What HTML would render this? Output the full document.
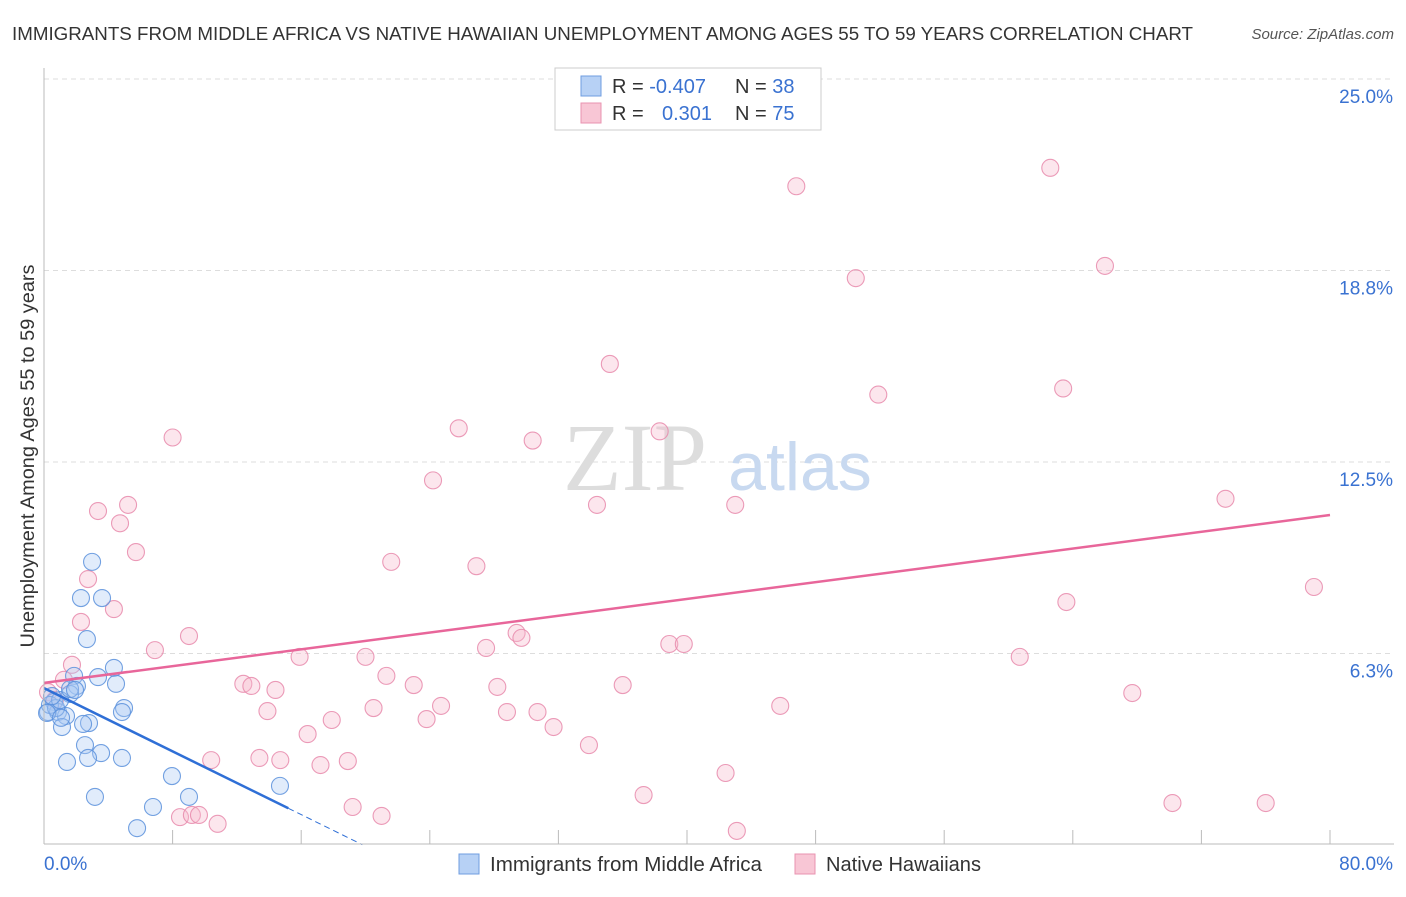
<!DOCTYPE html>
<html><head><meta charset="utf-8"><style>
body{margin:0;background:#fff;font-family:"Liberation Sans",sans-serif}
svg text{font-family:"Liberation Sans",sans-serif}
</style></head><body>
<svg width="1406" height="892" xmlns="http://www.w3.org/2000/svg">
<text x="12" y="40" font-size="18" fill="#333" textLength="1181" lengthAdjust="spacingAndGlyphs">IMMIGRANTS FROM MIDDLE AFRICA VS NATIVE HAWAIIAN UNEMPLOYMENT AMONG AGES 55 TO 59 YEARS CORRELATION CHART</text>
<text x="1394" y="39" font-size="15" fill="#555" font-style="italic" text-anchor="end">Source: ZipAtlas.com</text>
<g id="grid"></g>
<text x="635" y="490" font-size="96" fill="#ddd" text-anchor="middle" style="font-family:'Liberation Serif',serif">ZIP</text>
<text x="800" y="490" font-size="68" fill="#c8d9f0" text-anchor="middle">atlas</text>
<g id="pts"></g>
<g id="axes"></g>
<text transform="translate(34,456) rotate(-90)" font-size="19" fill="#333" text-anchor="middle" textLength="383" lengthAdjust="spacingAndGlyphs">Unemployment Among Ages 55 to 59 years</text>
<g>
<rect x="555" y="68" width="266" height="62" fill="#fff" stroke="#ccc"/>
<rect x="581" y="76" width="20" height="20" fill="#b7d1f5" stroke="#6f9de0"/>
<rect x="581" y="103" width="20" height="20" fill="#f8c6d5" stroke="#e993b0"/>
<text x="612" y="93" font-size="20" fill="#333">R = <tspan fill="#3a72d1">-0.407</tspan></text>
<text x="735" y="93" font-size="20" fill="#333">N = <tspan fill="#3a72d1">38</tspan></text>
<text x="612" y="120" font-size="20" fill="#333">R = </text>
<text x="662" y="120" font-size="20" fill="#3a72d1">0.301</text>
<text x="735" y="120" font-size="20" fill="#333">N = <tspan fill="#3a72d1">75</tspan></text>
</g>
<g>
<rect x="459" y="854" width="20" height="20" fill="#b7d1f5" stroke="#6f9de0"/>
<text x="490" y="871" font-size="20" fill="#333" textLength="272" lengthAdjust="spacingAndGlyphs">Immigrants from Middle Africa</text>
<rect x="795" y="854" width="20" height="20" fill="#f8c6d5" stroke="#e993b0"/>
<text x="826" y="871" font-size="20" fill="#333" textLength="155" lengthAdjust="spacingAndGlyphs">Native Hawaiians</text>
</g>
</svg>
<script>
const yTicks=[6.25,12.5,18.75,25];
const yTickLabels=["6.3%","12.5%","18.8%","25.0%"];
const xTickCount=10;
const blueX=[2.99,2.30,3.61,2.67,4.35,3.36,4.48,1.87,2.05,1.62,0.62,0.25,0.87,1.37,4.98,4.85,2.80,1.12,2.43,2.55,3.55,2.74,1.43,4.85,7.96,3.17,6.78,9.02,14.68,5.79,0.37,0.75,1.0,0.19,0.5,1.06,1.62,1.93];
const blueY=[9.24,8.06,8.06,6.72,5.78,5.48,5.26,5.52,5.19,4.93,4.67,4.34,4.34,4.21,4.47,4.34,3.98,3.85,3.95,3.26,3.0,2.84,2.71,2.84,2.25,1.57,1.24,1.57,1.93,0.55,4.57,4.47,4.73,4.31,4.86,4.15,5.09,5.06];
const pinkX=[46.8,62.6,50.5,66.0,35.2,51.9,63.4,8.0,25.8,30.4,38.3,24.2,34.4,43.0,73.5,3.36,5.23,4.73,5.72,21.6,26.9,79.0,2.74,4.35,2.30,63.6,9.02,6.9,27.5,29.4,29.7,38.9,39.8,15.9,20.0,60.7,1.74,1.24,21.3,12.4,12.9,14.4,23.0,28.2,36.0,67.7,13.9,20.5,24.7,28.8,30.7,45.8,17.9,23.8,31.7,16.4,33.9,10.4,13.4,14.7,17.2,18.9,42.4,37.3,19.2,8.46,9.2,9.64,10.8,21.0,43.1,70.2,76.0,0.25,0.68];
const pinkY=[21.5,22.1,18.5,18.9,15.7,14.7,14.9,13.3,13.6,13.2,13.5,11.9,11.1,11.1,11.3,10.9,11.1,10.5,9.56,9.24,9.1,8.42,8.68,7.7,7.28,7.93,6.82,6.36,6.43,6.92,6.76,6.56,6.56,6.14,6.14,6.14,5.88,5.39,5.52,5.26,5.19,5.06,5.22,5.16,5.22,4.96,4.37,4.47,4.54,4.34,4.34,4.54,4.08,4.11,3.85,3.62,3.26,2.77,2.84,2.77,2.61,2.74,2.35,1.63,1.24,0.91,0.98,0.98,0.69,0.95,0.46,1.37,1.37,4.99,4.73];
const blueTrend=[5.12,-0.258]; const blueSolidEnd=15.2, blueDashEnd=19.8;
const pinkTrend=[5.29,0.0685]; const pinkEnd=80;
const NS="http://www.w3.org/2000/svg";
const X=v=>44+v/80*1286, Y=v=>845-v/25*766;
function mk(t,a,p){const e=document.createElementNS(NS,t);for(const k in a)e.setAttribute(k,a[k]);p.appendChild(e);return e;}
const grid=document.getElementById('grid'),axes=document.getElementById('axes'),pts=document.getElementById('pts');
yTicks.forEach((t,i)=>{const l=mk('line',{x1:44,x2:1394,y1:Y(t),y2:Y(t),stroke:'#ddd','stroke-dasharray':'5,4'},grid);


const tx=mk('text',{x:1393,y:Y(t)+24,'font-size':19,fill:'#3a72d1','text-anchor':'end'},axes);tx.textContent=yTickLabels[i];

});
mk('line',{x1:44,x2:44,y1:68,y2:844,stroke:'#bbb'},axes);
mk('line',{x1:44,x2:1394,y1:844,y2:844,stroke:'#bbb'},axes);
for(let i=1;i<=xTickCount;i++){const t=mk('line',{x1:X(i*8),x2:X(i*8),y1:830,y2:844,stroke:'#bbb'},axes);

}
const x0=mk('text',{x:44,y:870,'font-size':19,fill:'#3a72d1'},axes);x0.textContent="0.0%";


const x1=mk('text',{x:1393,y:870,'font-size':19,fill:'#3a72d1','text-anchor':'end'},axes);x1.textContent="80.0%";


function dots(xs,ys,fill,stroke,name){xs.forEach((x,i)=>{const c=mk('circle',{cx:X(x),cy:Y(ys[i]),r:8.5,fill:fill,'fill-opacity':0.35,stroke:stroke,'stroke-width':1.1,'stroke-opacity':0.85},pts);

});}
dots(pinkX,pinkY,'#f6b7cb','#e88aab','native-hawaiian-point');
dots(blueX,blueY,'#a9c8f3','#5b90dc','middle-africa-point');
const pl=mk('line',{x1:X(0),y1:Y(pinkTrend[0]),x2:X(pinkEnd),y2:Y(pinkTrend[0]+pinkTrend[1]*pinkEnd),stroke:'#e8669a','stroke-width':2.5},pts);


const bl=mk('line',{x1:X(0),y1:Y(blueTrend[0]),x2:X(blueSolidEnd),y2:Y(blueTrend[0]+blueTrend[1]*blueSolidEnd),stroke:'#2f6fd6','stroke-width':2.5},pts);


const bd=mk('line',{x1:X(blueSolidEnd),y1:Y(blueTrend[0]+blueTrend[1]*blueSolidEnd),x2:X(blueDashEnd),y2:Y(blueTrend[0]+blueTrend[1]*blueDashEnd),stroke:'#2f6fd6','stroke-width':1,'stroke-dasharray':'6,4'},pts);


</script>
</body></html>
